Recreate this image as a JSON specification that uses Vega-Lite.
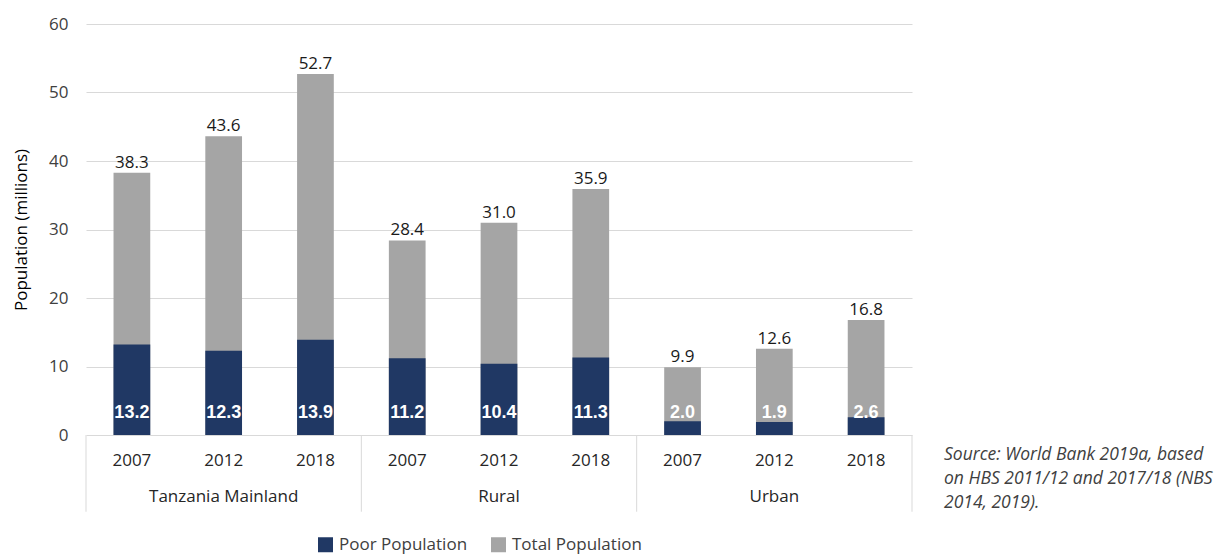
{
  "$schema": "https://vega.github.io/schema/vega-lite/v6.json",
  "width": 826,
  "height": 411,
  "autosize": {"type": "none"},
  "padding": {"left": 86, "top": 24, "right": 311, "bottom": 120},
  "background": "white",
  "config": {
    "font": "Open Sans",
    "view": {"stroke": null}
  },
  "title": {
    "text": ["Source: World Bank 2019a, based", "on HBS 2011/12 and 2017/18 (NBS", "2014, 2019)."],
    "orient": "bottom",
    "anchor": "end",
    "frame": "group",
    "align": "left",
    "baseline": "top",
    "dx": 32,
    "dy": -107,
    "offset": 0,
    "fontSize": 17.5,
    "fontStyle": "italic",
    "fontWeight": "normal",
    "color": "#404040",
    "lineHeight": 24
  },
  "data": {
    "values": [
      {"group": "Tanzania Mainland", "year": "2007", "key": "Tanzania Mainland 2007", "poor": 13.2, "total": 38.3},
      {"group": "Tanzania Mainland", "year": "2012", "key": "Tanzania Mainland 2012", "poor": 12.3, "total": 43.6},
      {"group": "Tanzania Mainland", "year": "2018", "key": "Tanzania Mainland 2018", "poor": 13.9, "total": 52.7},
      {"group": "Rural", "year": "2007", "key": "Rural 2007", "poor": 11.2, "total": 28.4},
      {"group": "Rural", "year": "2012", "key": "Rural 2012", "poor": 10.4, "total": 31.0},
      {"group": "Rural", "year": "2018", "key": "Rural 2018", "poor": 11.3, "total": 35.9},
      {"group": "Urban", "year": "2007", "key": "Urban 2007", "poor": 2.0, "total": 9.9},
      {"group": "Urban", "year": "2012", "key": "Urban 2012", "poor": 1.9, "total": 12.6},
      {"group": "Urban", "year": "2018", "key": "Urban 2018", "poor": 2.6, "total": 16.8}
    ]
  },
  "encoding": {
    "x": {
      "field": "key",
      "type": "nominal",
      "sort": null,
      "scale": {"paddingInner": 0, "paddingOuter": 0},
      "axis": null
    }
  },
  "layer": [
    {
      "mark": {"type": "bar", "width": {"band": 0.4}},
      "encoding": {
        "y": {
          "field": "total",
          "type": "quantitative",
          "scale": {"domain": [0, 60], "nice": false, "zero": true},
          "axis": {
            "values": [0, 10, 20, 30, 40, 50, 60],
            "title": "Population (millions)",
            "titleFontSize": 17,
            "titleFontWeight": "normal",
            "titleColor": "#000000",
            "titlePadding": 18,
            "labelFontSize": 17,
            "labelColor": "#404040",
            "labelPadding": 18,
            "ticks": false,
            "domain": false,
            "grid": true,
            "gridColor": "#D9D9D9",
            "gridWidth": 1
          }
        },
        "color": {
          "datum": "Total Population",
          "type": "nominal",
          "scale": {"domain": ["Poor Population", "Total Population"], "range": ["#203864", "#A5A5A5"]},
          "legend": {
            "title": null,
            "orient": "none",
            "direction": "horizontal",
            "legendX": 231,
            "legendY": 512,
            "symbolType": "square",
            "symbolSize": 225,
            "symbolStrokeWidth": 0,
            "labelFontSize": 17,
            "labelColor": "#404040",
            "labelOffset": 5,
            "columnPadding": 22
          }
        }
      }
    },
    {
      "mark": {"type": "bar", "width": {"band": 0.4}},
      "encoding": {
        "y": {"field": "poor", "type": "quantitative"},
        "color": {"datum": "Poor Population", "type": "nominal"}
      }
    },
    {
      "mark": {"type": "text", "fontSize": 17, "color": "#1a1a1a", "baseline": "alphabetic", "dy": -5},
      "encoding": {
        "y": {"field": "total", "type": "quantitative"},
        "text": {"field": "total", "type": "quantitative", "format": ".1f"}
      }
    },
    {
      "mark": {"type": "text", "font": "Liberation Sans", "fontSize": 18, "fontWeight": "bold", "color": "#ffffff", "baseline": "middle", "dy": -22},
      "encoding": {
        "y": {"datum": 0},
        "text": {"field": "poor", "type": "quantitative", "format": ".1f"}
      }
    },
    {
      "mark": {"type": "text", "fontSize": 17, "color": "#262626", "baseline": "middle"},
      "encoding": {
        "y": {"datum": -3.8},
        "text": {"field": "year"}
      }
    },
    {
      "transform": [{"filter": "datum.year == '2012'"}],
      "mark": {"type": "text", "fontSize": 17, "color": "#262626", "baseline": "middle"},
      "encoding": {
        "y": {"datum": -9.05},
        "text": {"field": "group"}
      }
    },
    {
      "transform": [{"filter": "datum.year == '2007'"}],
      "mark": {"type": "rule", "color": "#D9D9D9", "strokeWidth": 1},
      "encoding": {
        "x": {"field": "key", "type": "nominal", "sort": null, "bandPosition": 0},
        "y": {"datum": 0},
        "y2": {"datum": -11.2}
      }
    },
    {
      "transform": [{"filter": "datum.key == 'Urban 2018'"}],
      "mark": {"type": "rule", "color": "#D9D9D9", "strokeWidth": 1},
      "encoding": {
        "x": {"field": "key", "type": "nominal", "sort": null, "bandPosition": 1},
        "y": {"datum": 0},
        "y2": {"datum": -11.2}
      }
    }
  ]
}
